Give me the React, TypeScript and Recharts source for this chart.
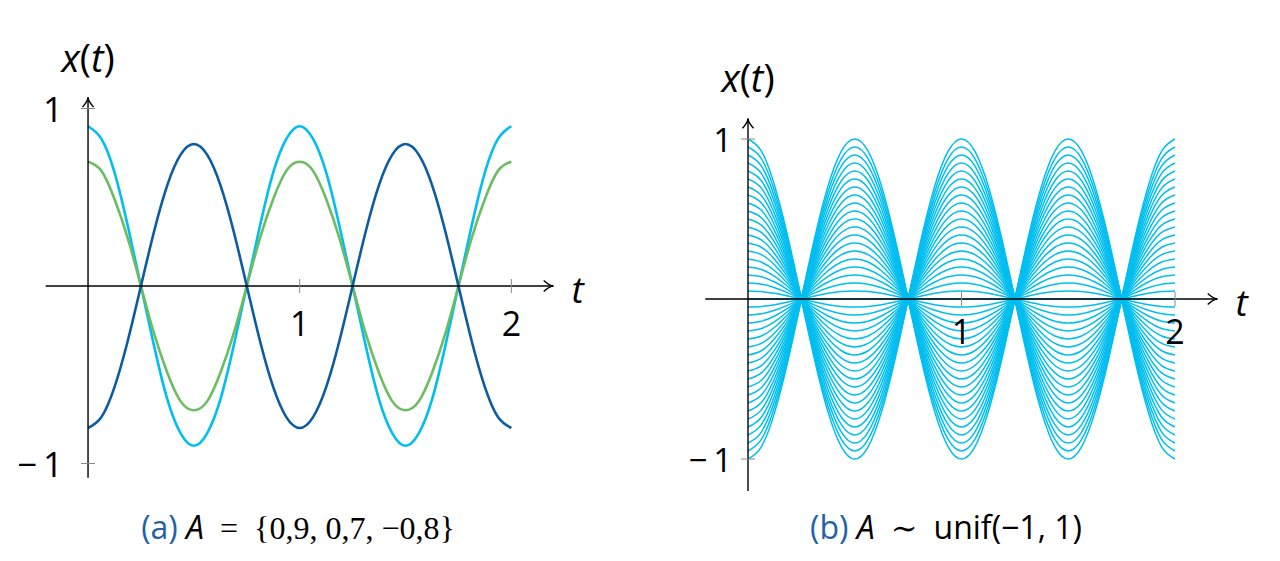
import { LineChart, Line, XAxis, YAxis, ReferenceLine, ReferenceDot } from 'recharts'

// time samples, 0..2 every 1/16
const tValues = [
  0, 0.0625, 0.125, 0.1875, 0.25, 0.3125, 0.375, 0.4375, 0.5, 0.5625, 0.625, 0.6875, 0.75, 0.8125, 0.875, 0.9375,
  1, 1.0625, 1.125, 1.1875, 1.25, 1.3125, 1.375, 1.4375, 1.5, 1.5625, 1.625, 1.6875, 1.75, 1.8125, 1.875, 1.9375, 2,
]

// panel (a): three realisations
const seriesA09 = [
  0.9, 0.83, 0.64, 0.34, 0, -0.34, -0.64, -0.83, -0.9, -0.83, -0.64, -0.34, 0, 0.34, 0.64, 0.83,
  0.9, 0.83, 0.64, 0.34, 0, -0.34, -0.64, -0.83, -0.9, -0.83, -0.64, -0.34, 0, 0.34, 0.64, 0.83, 0.9,
]
const seriesA07 = [
  0.7, 0.65, 0.49, 0.27, 0, -0.27, -0.49, -0.65, -0.7, -0.65, -0.49, -0.27, 0, 0.27, 0.49, 0.65,
  0.7, 0.65, 0.49, 0.27, 0, -0.27, -0.49, -0.65, -0.7, -0.65, -0.49, -0.27, 0, 0.27, 0.49, 0.65, 0.7,
]
const seriesAm08 = [
  -0.8, -0.74, -0.57, -0.31, 0, 0.31, 0.57, 0.74, 0.8, 0.74, 0.57, 0.31, 0, -0.31, -0.57, -0.74,
  -0.8, -0.74, -0.57, -0.31, 0, 0.31, 0.57, 0.74, 0.8, 0.74, 0.57, 0.31, 0, -0.31, -0.57, -0.74, -0.8,
]

// panel (b): unit wave shape and the amplitudes of the curve family
const unitWave = [
  1, 0.924, 0.707, 0.383, 0, -0.383, -0.707, -0.924, -1, -0.924, -0.707, -0.383, 0, 0.383, 0.707, 0.924,
  1, 0.924, 0.707, 0.383, 0, -0.383, -0.707, -0.924, -1, -0.924, -0.707, -0.383, 0, 0.383, 0.707, 0.924, 1,
]
const amplitudes = [
  -1, -0.95, -0.9, -0.85, -0.8, -0.75, -0.7, -0.65, -0.6, -0.55, -0.5, -0.45, -0.4, -0.35, -0.3, -0.25, -0.2,
  -0.15, -0.1, -0.05, 0, 0.05, 0.1, 0.15, 0.2, 0.25, 0.3, 0.35, 0.4, 0.45, 0.5, 0.55, 0.6, 0.65, 0.7, 0.75,
  0.8, 0.85, 0.9, 0.95, 1,
]

const xTicks = [1, 2]
const yTicks = [-1, 1]
const yTickLabels = ['\u2212\u20091', '1']

const leftData = tValues.map((t, i) => ({ t, a: seriesA09[i], b: seriesA07[i], c: seriesAm08[i] }))
const rightData = tValues.map((t, i) => {
  const row: Record<string, number> = { t }
  amplitudes.forEach((a, k) => {
    row['k' + k] = a * unitWave[i]
  })
  return row
})

const FONT = '"Open Sans", "DejaVu Sans", sans-serif'
const LIGHT = '#00BEF0'
const GREEN = '#6CBD62'
const DARK = '#0B5CA2'

function arrowLine(label: 'x' | 'y', size: number, lift: number) {
  return (props: any) => {
    const { x1, y1, x2, y2 } = props
    const dx = x2 - x1
    const dy = y2 - y1
    const len = Math.hypot(dx, dy) || 1
    const ux = dx / len
    const uy = dy / len
    const px = -uy
    const py = ux
    const L = 10
    const W = 5.5
    const bx = x2 - ux * L
    const by = y2 - uy * L
    const qx = x2 - ux * 4
    const qy = y2 - uy * 4
    return (
      <g>
        <line x1={x1} y1={y1} x2={x2 - ux * 1} y2={y2 - uy * 1} stroke="#000" strokeWidth={1.4} />
        <path
          d={`M${bx + px * W},${by + py * W} Q${qx},${qy} ${x2},${y2} Q${qx},${qy} ${bx - px * W},${by - py * W}`}
          fill="none"
          stroke="#000"
          strokeWidth={1.4}
        />
        {label === 'x' ? (
          <text x={x2 + 24} y={y2 + 2} textAnchor="middle" dominantBaseline="central" fontFamily={FONT} fontSize={size} fontStyle="italic">
            t
          </text>
        ) : (
          <text x={x2} y={y2 - lift} textAnchor="middle" fontFamily={FONT} fontSize={size}>
            <tspan fontStyle="italic">x</tspan>(<tspan fontStyle="italic">t</tspan>)
          </text>
        )}
      </g>
    )
  }
}

function xTickShape(label: string, gap: number, size: number) {
  return (p: any) => (
    <g>
      <line x1={p.cx} x2={p.cx} y1={p.cy - 7} y2={p.cy + 7} stroke="#888" strokeWidth={1} />
      <text x={p.cx} y={p.cy + gap} textAnchor="middle" dominantBaseline="central" fontFamily={FONT} fontSize={size}>
        {label}
      </text>
    </g>
  )
}

function yTickShape(label: string, gap: number, size: number) {
  return (p: any) => (
    <g>
      <line x1={p.cx - 7} x2={p.cx + 7} y1={p.cy} y2={p.cy} stroke="#888" strokeWidth={1} />
      <text x={p.cx - gap} y={p.cy} textAnchor="end" dominantBaseline="central" fontFamily={FONT} fontSize={size}>
        {label}
      </text>
    </g>
  )
}

function LeftPanel() {
  return (
    <LineChart
      width={640}
      height={561}
      data={leftData}
      margin={{ left: 45.7, right: 86.3, top: 94.3, bottom: 83.3 }}
      style={{ position: 'absolute', left: 0, top: 0 }}
    >
      <XAxis type="number" dataKey="t" domain={[-0.2, 2.2]} hide />
      <YAxis type="number" domain={[-1.08, 1.08]} hide />
      <Line dataKey="a" type="natural" stroke={LIGHT} strokeWidth={2.6} dot={false} isAnimationActive={false} />
      <Line dataKey="b" type="natural" stroke={GREEN} strokeWidth={2.6} dot={false} isAnimationActive={false} />
      <Line dataKey="c" type="natural" stroke={DARK} strokeWidth={2.6} dot={false} isAnimationActive={false} />
      <ReferenceLine segment={[{ x: -0.2, y: 0 }, { x: 2.2, y: 0 }]} shape={arrowLine('x', 37, 0)} ifOverflow="visible" />
      <ReferenceLine segment={[{ x: 0, y: -1.08 }, { x: 0, y: 1.065 }]} shape={arrowLine('y', 38, 25)} ifOverflow="visible" />
      {xTicks.map(v => (
        <ReferenceDot key={'x' + v} x={v} y={0} shape={xTickShape(String(v), 37, 34)} ifOverflow="visible" />
      ))}
      {yTicks.map((v, i) => (
        <ReferenceDot key={'y' + v} x={0} y={v} shape={yTickShape(yTickLabels[i], 25, 35)} ifOverflow="visible" />
      ))}
    </LineChart>
  )
}

function RightPanel() {
  return (
    <LineChart
      width={640}
      height={561}
      data={rightData}
      margin={{ left: 65.3, right: 62.3, top: 107, bottom: 70 }}
      style={{ position: 'absolute', left: 640, top: 0 }}
    >
      <XAxis type="number" dataKey="t" domain={[-0.2, 2.2]} hide />
      <YAxis type="number" domain={[-1.2, 1.2]} hide />
      {amplitudes.map((a, k) => (
        <Line
          key={k}
          dataKey={'k' + k}
          type="natural"
          stroke={LIGHT}
          strokeWidth={1.5}
          dot={false}
          isAnimationActive={false}
        />
      ))}
      <ReferenceLine segment={[{ x: -0.2, y: 0 }, { x: 2.2, y: 0 }]} shape={arrowLine('x', 37, 0)} ifOverflow="visible" />
      <ReferenceLine segment={[{ x: 0, y: -1.2 }, { x: 0, y: 1.13 }]} shape={arrowLine('y', 38, 26)} ifOverflow="visible" />
      {xTicks.map(v => (
        <ReferenceDot key={'x' + v} x={v} y={0} shape={xTickShape(String(v), 32, 34)} ifOverflow="visible" />
      ))}
      {yTicks.map((v, i) => (
        <ReferenceDot key={'y' + v} x={0} y={v} shape={yTickShape(yTickLabels[i], 16, 33)} ifOverflow="visible" />
      ))}
    </LineChart>
  )
}

const capStyle: React.CSSProperties = {
  position: 'absolute',
  top: 508,
  fontSize: 32,
  lineHeight: '38px',
  textAlign: 'center',
  whiteSpace: 'nowrap',
  fontFamily: FONT,
}
const serif = '"Liberation Serif", "DejaVu Serif", serif'

export default function App() {
  return (
    <div style={{ position: 'absolute', left: 0, top: 0, width: 1280, height: 561, background: '#fff' }}>
      <LeftPanel />
      <RightPanel />
      <div style={{ ...capStyle, left: 0, width: 596 }}>
        <span style={{ color: '#1F63A6' }}>(a)</span> <span style={{ fontStyle: 'italic' }}>A</span>
        <span style={{ fontFamily: serif }}>{'\u2002'}={'\u2002'}{'{'}0,9, 0,7, {'\u2212'}0,8{'}'}</span>
      </div>
      <div style={{ ...capStyle, left: 646, width: 600 }}>
        <span style={{ color: '#1F63A6' }}>(b)</span> <span style={{ fontStyle: 'italic' }}>A</span>
        <span style={{ fontFamily: serif }}>{'\u2002'}{'\u223C'}{'\u2002'}</span>unif({'\u2212'}1, 1)
      </div>
    </div>
  )
}
